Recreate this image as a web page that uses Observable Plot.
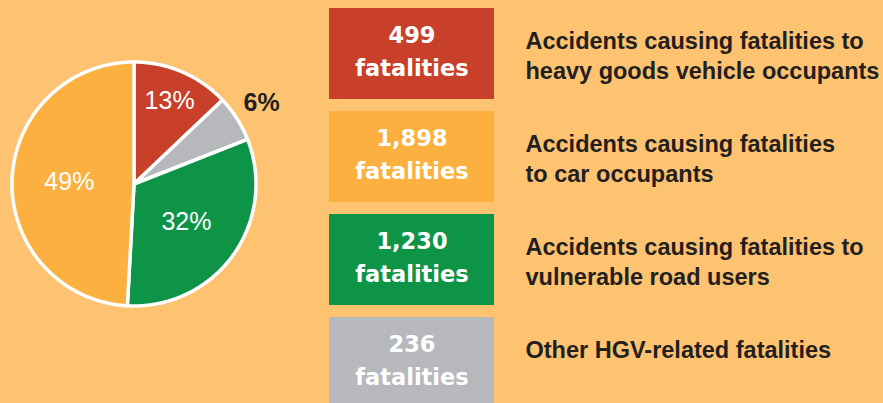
<!DOCTYPE html>
<html>
<head>
<meta charset="utf-8">
<script src="https://cdn.jsdelivr.net/npm/d3@7"></script>
<script src="https://cdn.jsdelivr.net/npm/@observablehq/plot@0.6"></script>
<style>
  html, body { margin: 0; padding: 0; background: #FEC370; overflow: hidden; }
  #wrap { display: flex; width: 883px; height: 403px; }
</style>
</head>
<body>
<div id="wrap"></div>
<script>
// ---- data ----
const categories = ["HGV occupants", "Car occupants", "Vulnerable road users", "Other HGV-related"];
const fatalities = [499, 1898, 1230, 236];
const labels = [
  "Accidents causing fatalities to\nheavy goods vehicle occupants",
  "Accidents causing fatalities\nto car occupants",
  "Accidents causing fatalities to\nvulnerable road users",
  "Other HGV-related fatalities"
];
const colors = ["#C8402A", "#FBB040", "#0E9447", "#B7B8BC"];
const pieOrder = ["HGV occupants", "Other HGV-related", "Vulnerable road users", "Car occupants"];

// ---- derived ----
const rows = categories.map((c, i) => ({cat: c, value: fatalities[i], label: labels[i]}));
const total = d3.sum(fatalities);
const byCat = new Map(rows.map(d => [d.cat, d]));
const arcs = d3.pie().sort(null).value(d => d.value)(pieOrder.map(c => byCat.get(c)));

const wedgePts = [];
for (const a of arcs) {
  const cat = a.data.cat;
  wedgePts.push({cat, x: 0, y: 0});
  const n = Math.max(2, Math.ceil((a.endAngle - a.startAngle) / (Math.PI / 360)));
  for (let k = 0; k <= n; k++) {
    const t = a.startAngle + (a.endAngle - a.startAngle) * k / n;
    wedgePts.push({cat, x: Math.sin(t), y: Math.cos(t)});
  }
  wedgePts.push({cat, x: 0, y: 0});
}
const pctLabels = arcs.map(a => {
  const share = a.data.value / total;
  const m = (a.startAngle + a.endAngle) / 2;
  const rho = share < 0.1 ? 1.24 : share < 0.2 ? 0.74 : 0.53;
  return {cat: a.data.cat, share, x: rho * Math.sin(m), y: rho * Math.cos(m),
          text: Math.round(share * 100) + "%", outside: share < 0.1};
});

const colorScale = {domain: categories, range: colors};
const dark = "#231F20";

// ---- left: pie ----
const W1 = 320, H = 403, cx = 133.5, cy = 183.5, R = 122;
const pie = Plot.plot({
  width: W1, height: H, margin: 0,
  style: {background: "transparent", overflow: "visible"},
  x: {domain: [-cx / R, (W1 - cx) / R], axis: null},
  y: {domain: [-(H - cy) / R, cy / R], axis: null},
  color: colorScale,
  marks: [
    Plot.line(wedgePts, {x: "x", y: "y", z: "cat", fill: "cat", stroke: "white",
      strokeWidth: 3.5, strokeLinejoin: "round", curve: "linear"}),
    Plot.text(pctLabels.filter(d => !d.outside), {x: "x", y: "y", text: "text",
      fill: "white", fontSize: 25, fontFamily: "Liberation Sans, Arial, sans-serif"}),
    Plot.text(pctLabels.filter(d => d.outside), {x: "x", y: "y", text: "text",
      fill: dark, fontSize: 25, fontWeight: "bold", fontFamily: "Liberation Sans, Arial, sans-serif"})
  ]
});

// ---- right: boxes + labels ----
const W2 = 883 - W1;
const right = Plot.plot({
  width: W2, height: H,
  marginLeft: 9, marginRight: W2 - 174, marginTop: 0, marginBottom: 0,
  style: {background: "transparent", overflow: "visible"},
  y: {domain: categories, range: [7, 410], paddingInner: 0.116, paddingOuter: 0, axis: null},
  color: colorScale,
  marks: [
    Plot.cell(rows, {y: "cat", fill: "cat"}),
    Plot.text(rows, {y: "cat", frameAnchor: "middle", dy: -5,
      text: d => d3.format(",")(d.value) + "\nfatalities",
      fill: "white", fontSize: 22.5, fontWeight: "bold", lineHeight: 1.47,
      fontFamily: "DejaVu Sans, sans-serif"}),
    Plot.text(rows, {y: "cat", frameAnchor: "right", dx: 31, dy: -26,
      textAnchor: "start", lineAnchor: "top", text: "label",
      fill: dark, fontSize: 23.5, fontWeight: "bold", lineHeight: 30 / 23.5,
      fontFamily: "Liberation Sans, Arial, sans-serif"})
  ]
});

const wrap = document.getElementById("wrap");
wrap.appendChild(pie);
wrap.appendChild(right);
</script>
</body>
</html>
